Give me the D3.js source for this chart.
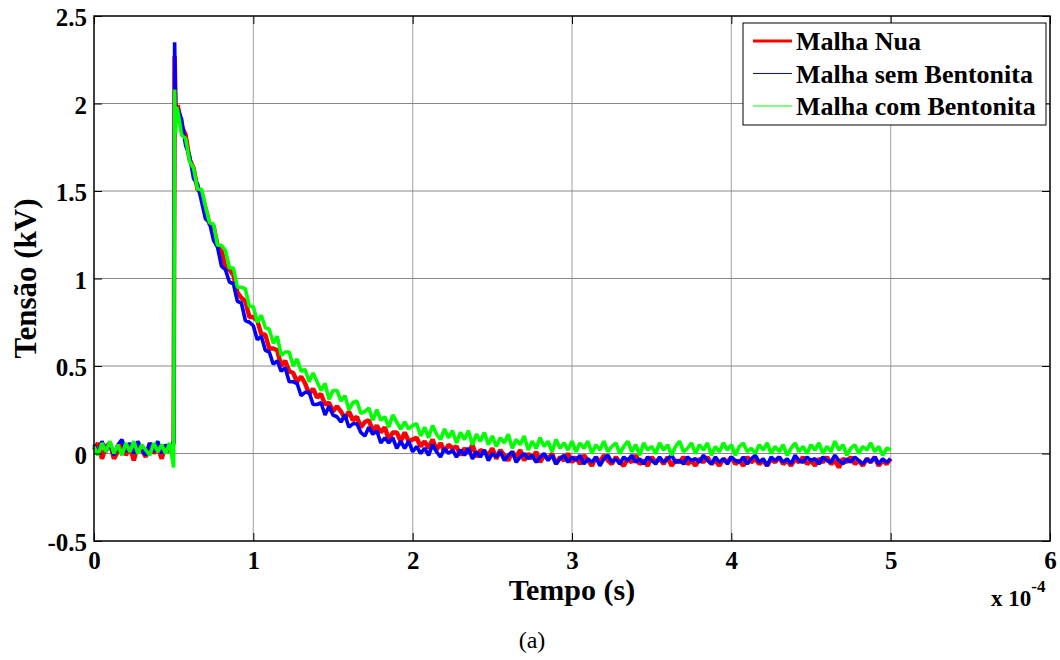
<!DOCTYPE html>
<html>
<head>
<meta charset="utf-8">
<script src="https://cdn.jsdelivr.net/npm/d3@7"></script>
<style>
    body { margin: 0; background: #fff; }
    svg text { font-family: "Liberation Serif", "Times New Roman", serif; }
</style>
</head>
<body>
<svg id="grafico" width="1060" height="660"></svg>
<script>
// TEMPO (x 10^-4 s): amostras antes do degrau, no degrau e depois
var tempoPre = d3.range( 0, 0.5001, 0.025 );
var tempoDegrau = [ 0.506, 0.512, 0.518 ];
var tempoPos = d3.range( 0.525, 5.0001, 0.025 );
var tempo = tempoPre.concat( tempoDegrau, tempoPos );

// TENSAO (kV)
var malhaNua = [
    0.02, 0.06, -0.03, 0.04, 0.06, -0.03, 0.01, 0.07, -0.01, 0.04,
    -0.04, 0.05, 0.02, -0.02, 0.06, 0.00, 0.04, -0.03, 0.05, 0.01, 0.06,
    2.27, 1.98, 1.94,
    1.99, 1.87, 1.82, 1.68, 1.63, 1.51, 1.49, 1.40, 1.31, 1.30,
    1.19, 1.17, 1.06, 1.05, 1.02, 0.92, 0.89, 0.87, 0.78, 0.78,
    0.76, 0.68, 0.68, 0.60, 0.60, 0.59, 0.50, 0.53, 0.47, 0.46,
    0.41, 0.44, 0.40, 0.34, 0.37, 0.32, 0.34, 0.28, 0.29, 0.24,
    0.27, 0.24, 0.20, 0.24, 0.19, 0.21, 0.15, 0.18, 0.19, 0.13,
    0.16, 0.12, 0.15, 0.08, 0.12, 0.12, 0.07, 0.12, 0.07, 0.08,
    0.09, 0.04, 0.07, 0.03, 0.08, 0.02, 0.06, 0.01, 0.05, 0.03,
    0.04, -0.01, 0.03, 0.00, 0.05, -0.02, 0.02, 0.01, -0.01, 0.03,
    -0.03, 0.02, -0.01, -0.04, 0.01, -0.02, 0.02, -0.04, 0.00, -0.03,
    0.01, -0.05, -0.01, -0.03, 0.00, -0.06, -0.02, -0.04, 0.00, -0.05,
    -0.02, -0.06, -0.01, -0.04, -0.07, -0.02, -0.05, -0.01, -0.04, -0.06,
    -0.02, -0.05, -0.07, -0.03, -0.05, -0.01, -0.06, -0.04, -0.07, -0.02,
    -0.05, -0.03, -0.06, -0.02, -0.07, -0.04, -0.05, -0.02, -0.06, -0.04,
    -0.07, -0.03, -0.05, -0.02, -0.06, -0.04, -0.07, -0.03, -0.05, -0.02,
    -0.06, -0.04, -0.07, -0.02, -0.05, -0.03, -0.06, -0.04, -0.07, -0.03,
    -0.05, -0.02, -0.06, -0.04, -0.07, -0.03, -0.05, -0.02, -0.06, -0.04,
    -0.07, -0.03, -0.05, -0.02, -0.06, -0.04, -0.08, -0.03, -0.05, -0.02,
    -0.06, -0.04, -0.07, -0.03, -0.05, -0.02, -0.07, -0.04, -0.06, -0.03
];

var malhaSemBentonita = [
    0.05, 0.00, 0.07, 0.01, 0.06, -0.01, 0.05, 0.08, 0.01, 0.06,
    0.00, 0.07, 0.02, -0.01, 0.06, 0.01, 0.07, 0.00, 0.05, 0.02, 0.07,
    2.35, 1.97, 1.92,
    1.97, 1.91, 1.76, 1.70, 1.57, 1.54, 1.44, 1.34, 1.32, 1.22,
    1.18, 1.07, 1.05, 0.98, 0.97, 0.87, 0.86, 0.76, 0.75, 0.73,
    0.65, 0.67, 0.59, 0.58, 0.51, 0.53, 0.47, 0.49, 0.41, 0.41,
    0.40, 0.33, 0.35, 0.35, 0.28, 0.28, 0.29, 0.22, 0.27, 0.22,
    0.21, 0.18, 0.22, 0.15, 0.17, 0.17, 0.12, 0.10, 0.15, 0.11,
    0.13, 0.06, 0.09, 0.06, 0.09, 0.03, 0.07, 0.03, 0.07, 0.01,
    0.04, 0.00, 0.03, -0.01, 0.05, 0.01, -0.02, 0.03, 0.00, 0.02,
    -0.02, 0.02, -0.01, 0.03, -0.03, 0.01, -0.02, 0.02, -0.04, 0.00,
    -0.02, 0.01, -0.04, -0.01, 0.01, -0.05, -0.02, 0.00, -0.03, -0.01,
    -0.05, -0.02, 0.00, -0.04, -0.01, -0.06, -0.03, -0.01, -0.05, -0.02,
    -0.04, -0.01, -0.06, -0.03, -0.05, -0.02, -0.07, -0.03, -0.01, -0.05,
    -0.03, -0.06, -0.02, -0.04, -0.01, -0.05, -0.03, -0.06, -0.02, -0.04,
    -0.06, -0.02, -0.05, -0.03, -0.01, -0.05, -0.04, -0.06, -0.02, -0.04,
    -0.03, -0.05, -0.01, -0.04, -0.06, -0.02, -0.05, -0.03, -0.06, -0.02,
    -0.04, -0.05, -0.02, -0.06, -0.03, -0.01, -0.05, -0.03, -0.07, -0.02,
    -0.04, -0.02, -0.05, -0.03, -0.06, -0.01, -0.04, -0.05, -0.02, -0.04,
    -0.03, -0.06, -0.02, -0.04, -0.05, -0.01, -0.04, -0.06, -0.03, -0.05,
    -0.02, -0.04, -0.06, -0.03, -0.05, -0.02, -0.06, -0.03, -0.05, -0.03
];

var malhaComBentonita = [
    0.04, -0.01, 0.06, 0.01, 0.07, 0.00, 0.05, -0.01, 0.06, 0.01,
    0.07, 0.00, 0.05, 0.02, -0.01, 0.06, 0.01, 0.05, 0.00, 0.06, -0.08,
    2.08, 1.83, 1.98,
    1.96, 1.82, 1.80, 1.67, 1.63, 1.51, 1.51, 1.41, 1.32, 1.31,
    1.19, 1.19, 1.16, 1.06, 1.06, 0.95, 0.95, 0.94, 0.84, 0.84,
    0.75, 0.79, 0.72, 0.71, 0.63, 0.67, 0.56, 0.58, 0.58, 0.50,
    0.54, 0.47, 0.48, 0.41, 0.46, 0.41, 0.36, 0.40, 0.31, 0.36,
    0.36, 0.30, 0.33, 0.25, 0.29, 0.30, 0.23, 0.24, 0.26, 0.19,
    0.25, 0.19, 0.21, 0.15, 0.22, 0.18, 0.14, 0.18, 0.14, 0.16,
    0.17, 0.10, 0.15, 0.09, 0.16, 0.11, 0.08, 0.14, 0.09, 0.13,
    0.06, 0.12, 0.08, 0.13, 0.05, 0.11, 0.07, 0.12, 0.05, 0.10,
    0.04, 0.09, 0.06, 0.11, 0.03, 0.08, 0.05, 0.10, 0.02, 0.07,
    0.03, 0.09, 0.04, 0.07, 0.01, 0.08, 0.03, 0.06, 0.02, 0.07,
    0.01, 0.06, 0.03, 0.07, 0.00, 0.05, 0.02, 0.07, 0.01, 0.04,
    0.06, 0.00, 0.04, 0.07, 0.01, 0.05, -0.01, 0.06, 0.02, 0.04,
    0.00, 0.06, 0.02, 0.05, -0.01, 0.04, 0.07, 0.01, 0.03, 0.06,
    0.00, 0.05, 0.02, 0.06, -0.01, 0.04, 0.01, 0.06, 0.02, 0.05,
    -0.01, 0.04, 0.06, 0.01, 0.03, 0.00, 0.05, 0.02, 0.06, 0.00,
    0.04, 0.01, 0.05, -0.01, 0.03, 0.06, 0.01, 0.04, 0.00, 0.05,
    0.02, 0.06, 0.00, 0.04, 0.01, 0.07, 0.02, 0.05, -0.01, 0.03,
    0.05, 0.00, 0.04, 0.02, 0.06, 0.01, 0.04, -0.01, 0.03, 0.02
];

var series = [
    { nome: "Malha Nua", valores: malhaNua, cor: "#ff0000", largura: 4.5, legenda: 3 },
    { nome: "Malha sem Bentonita", valores: malhaSemBentonita, cor: "#0000ff", largura: 3.6, legenda: 1.2 },
    { nome: "Malha com Bentonita", valores: malhaComBentonita, cor: "#00ff00", largura: 3.6, legenda: 1.2 }
];

var xTicks = [ 0, 1, 2, 3, 4, 5, 6 ];
var yTicks = [ -0.5, 0, 0.5, 1, 1.5, 2, 2.5 ];

// DIMENSOES DA AREA DO GRAFICO
var margem = { left: 94, top: 16 };
var largura = 956;
var altura = 525;

var svg = d3.select( "#grafico" );
var g = svg.append( "g" ).attr( "transform", "translate(" + margem.left + "," + margem.top + ")" );

var x = d3.scaleLinear().domain( [ 0, 6 ] ).range( [ 0, largura ] );
var y = d3.scaleLinear().domain( [ -0.5, 2.5 ] ).range( [ altura, 0 ] );

// GRADE
g.append( "g" )
    .selectAll( "line" )
    .data( xTicks.slice( 1, -1 ) )
    .enter()
    .append( "line" )
    .attr( "x1", d => x( d ) ).attr( "x2", d => x( d ) )
    .attr( "y1", 0 ).attr( "y2", altura )
    .attr( "stroke", "#b0b0b0" )
    .attr( "stroke-width", 1.2 );

g.append( "g" )
    .selectAll( "line" )
    .data( yTicks.slice( 1, -1 ) )
    .enter()
    .append( "line" )
    .attr( "x1", 0 ).attr( "x2", largura )
    .attr( "y1", d => y( d ) ).attr( "y2", d => y( d ) )
    .attr( "stroke", "#888" )
    .attr( "stroke-width", 1 );

// CURVAS (traco grosso para imitar a faixa de ruido)
var linha = d3.line()
    .x( ( d, i ) => x( tempo[ i ] ) )
    .y( d => y( d ) );

series.forEach( function ( s ) {
    g.append( "path" )
        .datum( s.valores )
        .attr( "fill", "none" )
        .attr( "stroke", s.cor )
        .attr( "stroke-width", s.largura )
        .attr( "stroke-linejoin", "bevel" )
        .attr( "d", linha );
} );

// EIXOS (ticks para dentro, como no MATLAB)
function estiloEixo( sel, mostraTexto ) {
    sel.select( ".domain" ).remove();
    sel.selectAll( ".tick line" ).attr( "stroke", "#000" ).attr( "stroke-width", 1 );
    sel.selectAll( "text" )
        .attr( "fill", "#000" )
        .style( "font-size", "25px" )
        .style( "font-weight", "bold" )
        .style( "display", mostraTexto ? null : "none" );
}

g.append( "g" )
    .attr( "transform", "translate(0," + altura + ")" )
    .call( d3.axisBottom( x ).tickValues( xTicks ).tickFormat( d3.format( "d" ) ).tickSize( -8 ).tickPadding( 10 ) )
    .call( estiloEixo, true );

g.append( "g" )
    .call( d3.axisTop( x ).tickValues( xTicks ).tickSize( -8 ) )
    .call( estiloEixo, false );

g.append( "g" )
    .call( d3.axisLeft( y ).tickValues( yTicks ).tickFormat( d => d ).tickSize( -8 ).tickPadding( 7 ) )
    .call( estiloEixo, true )
    .selectAll( "text" ).attr( "dy", "0.38em" );

g.append( "g" )
    .attr( "transform", "translate(" + largura + ",0)" )
    .call( d3.axisRight( y ).tickValues( yTicks ).tickSize( -8 ) )
    .call( estiloEixo, false );

// CAIXA
g.append( "rect" )
    .attr( "width", largura )
    .attr( "height", altura )
    .attr( "fill", "none" )
    .attr( "stroke", "#000" )
    .attr( "stroke-width", 1.5 );

// ROTULOS
svg.append( "text" )
    .attr( "x", margem.left + largura / 2 )
    .attr( "y", 600 )
    .attr( "text-anchor", "middle" )
    .style( "font-size", "30px" )
    .style( "font-weight", "bold" )
    .text( "Tempo (s)" );

svg.append( "text" )
    .attr( "transform", "translate(36," + ( margem.top + altura / 2 ) + ") rotate(-90)" )
    .attr( "text-anchor", "middle" )
    .style( "font-size", "31px" )
    .style( "font-weight", "bold" )
    .text( "Tensão (kV)" );

var expoente = svg.append( "text" )
    .attr( "x", 991 )
    .attr( "y", 606 )
    .style( "font-size", "23px" )
    .style( "font-weight", "bold" );
expoente.append( "tspan" ).text( "x 10" );
expoente.append( "tspan" ).attr( "dy", -14 ).style( "font-size", "17px" ).text( "-4" );

svg.append( "text" )
    .attr( "x", 532 )
    .attr( "y", 648 )
    .attr( "text-anchor", "middle" )
    .style( "font-size", "24px" )
    .text( "(a)" );

// LEGENDA
var legenda = svg.append( "g" ).attr( "transform", "translate(743,23)" );
legenda.append( "rect" )
    .attr( "width", 303 )
    .attr( "height", 102 )
    .attr( "fill", "#fff" )
    .attr( "stroke", "#000" )
    .attr( "stroke-width", 1 );

series.forEach( function ( s, i ) {
    var yy = 18 + i * 32.5;
    legenda.append( "line" )
        .attr( "x1", 10 ).attr( "x2", 49 )
        .attr( "y1", yy ).attr( "y2", yy )
        .attr( "stroke", s.cor )
        .attr( "stroke-width", s.legenda );
    legenda.append( "text" )
        .attr( "x", 53 )
        .attr( "y", yy + 9 )
        .style( "font-size", "26px" )
        .style( "font-weight", "bold" )
        .text( s.nome );
} );
</script>
</body>
</html>
